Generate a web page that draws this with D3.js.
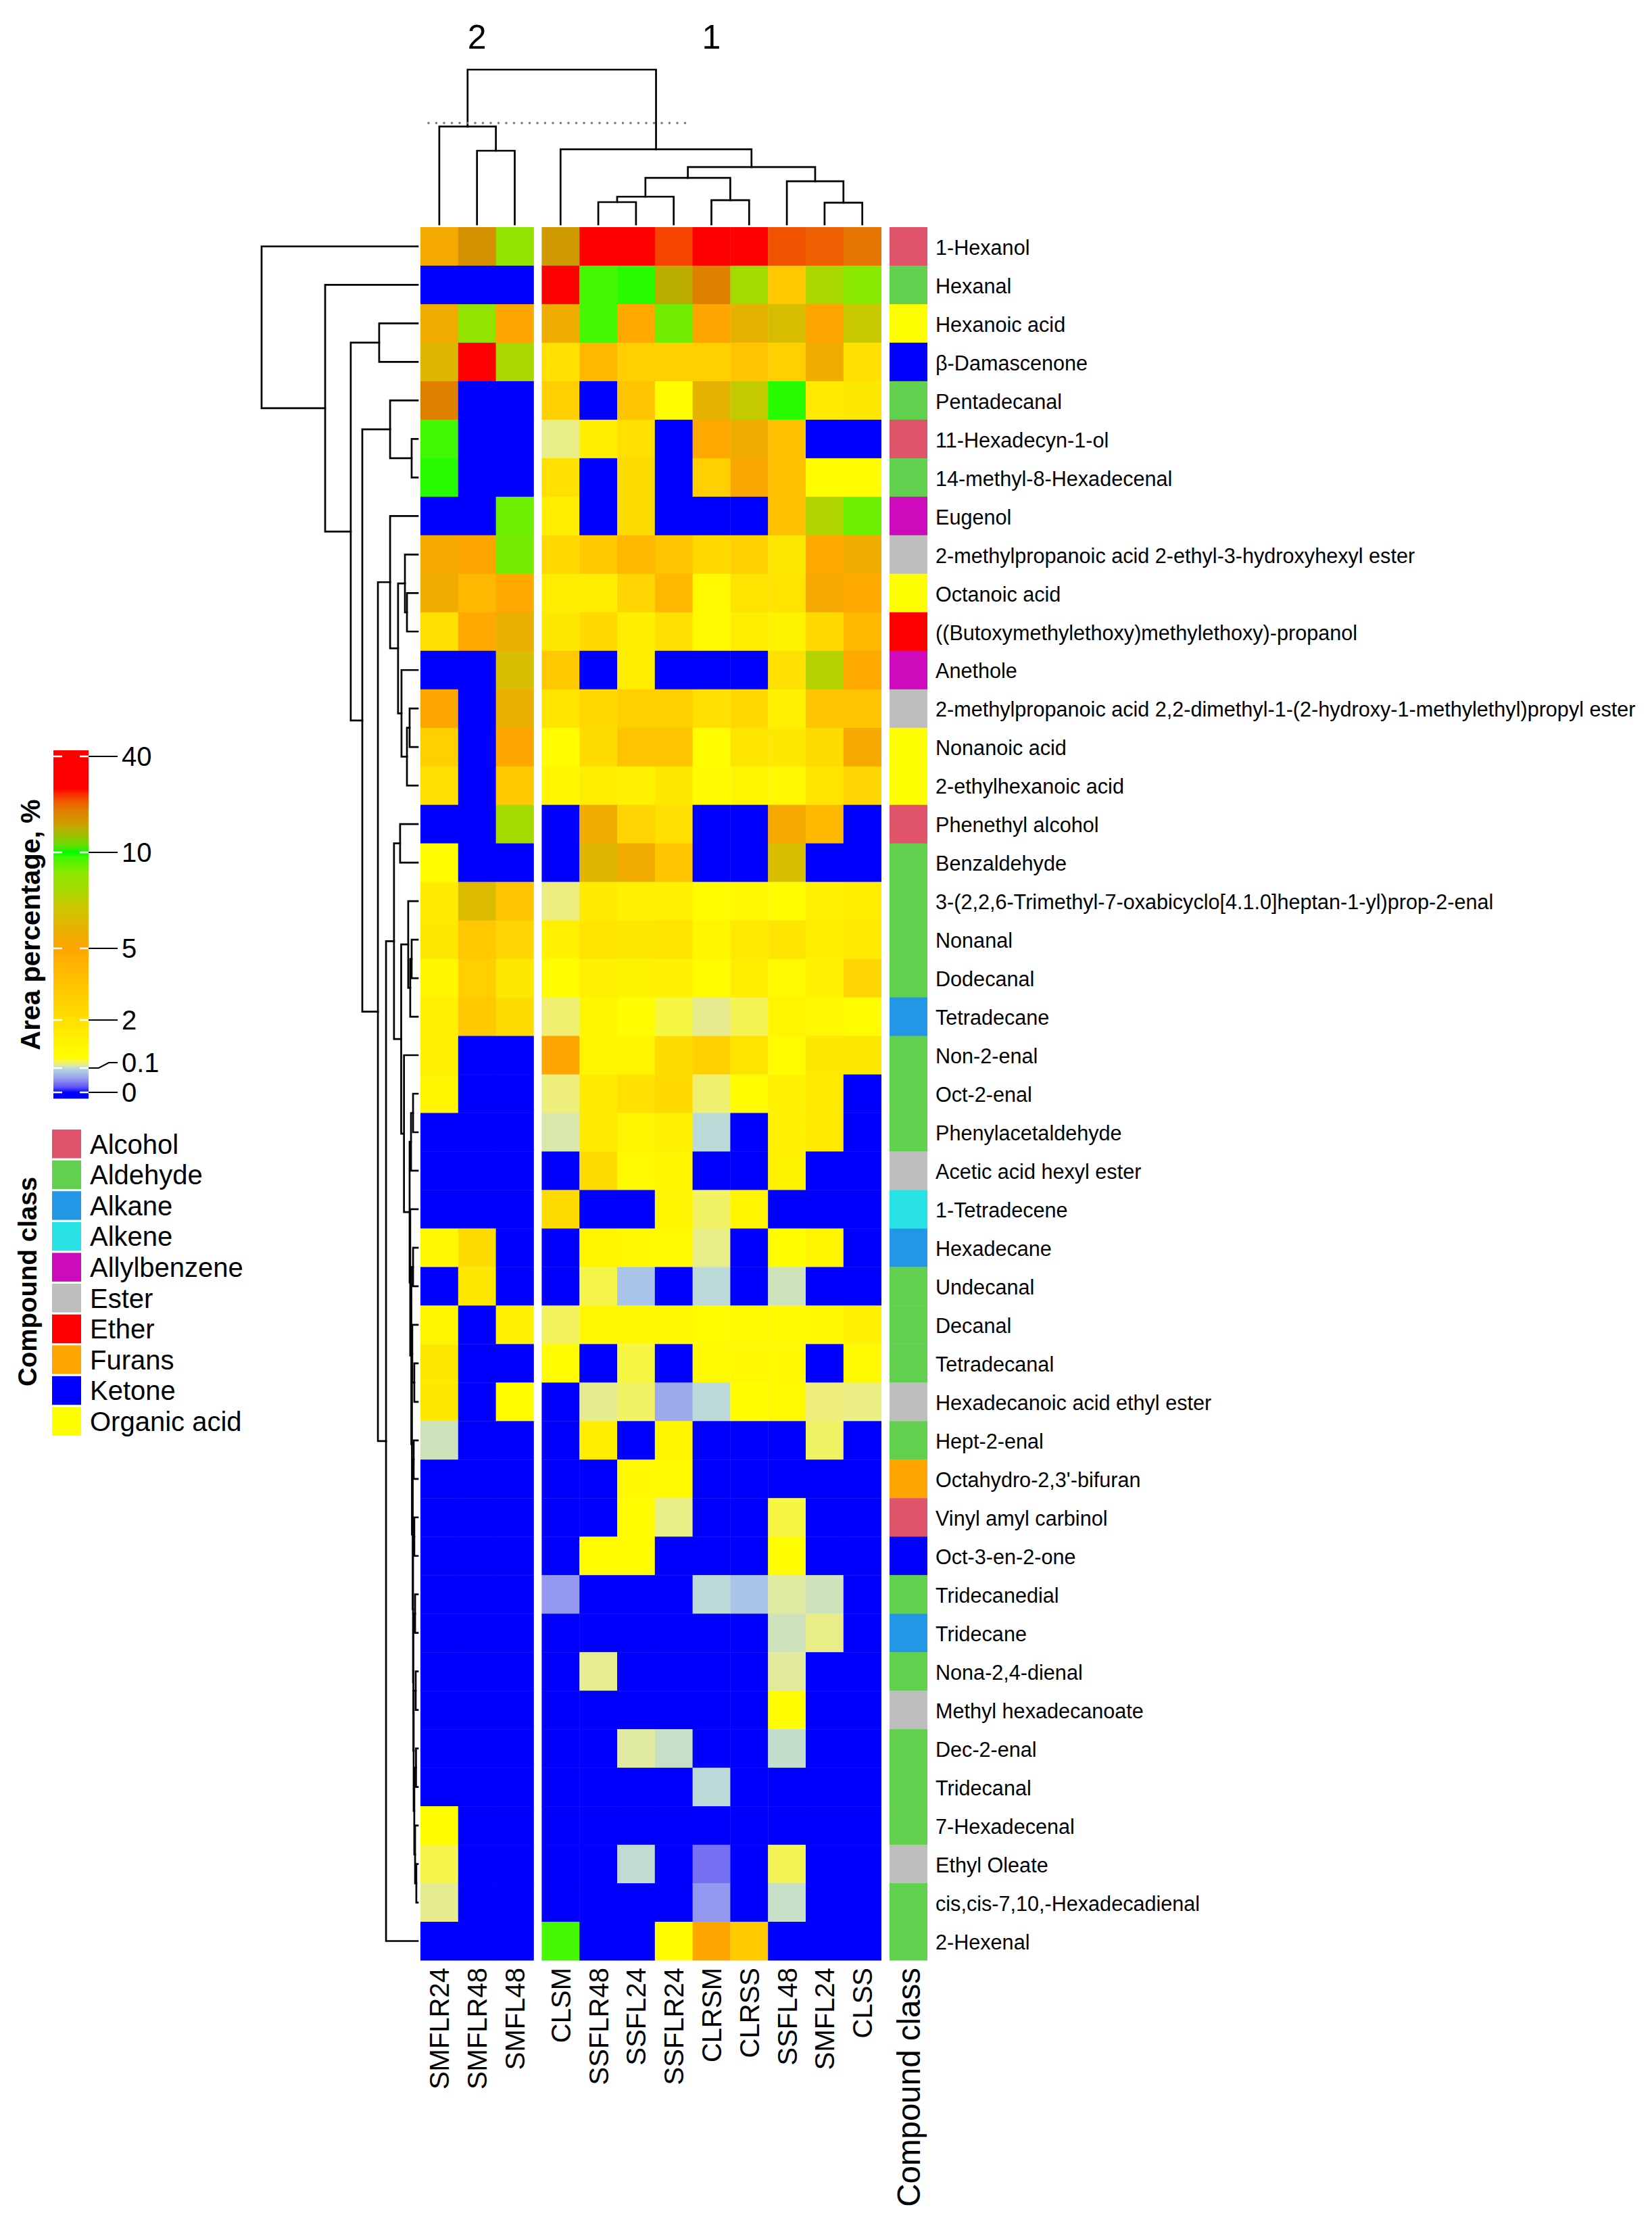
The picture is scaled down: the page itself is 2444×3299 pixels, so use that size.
<!DOCTYPE html>
<html><head><meta charset="utf-8">
<script src="https://cdn.jsdelivr.net/npm/d3@7"></script>
<style>
body{margin:0;background:#fff;}
svg{display:block;}
text{font-family:"Liberation Sans",Arial,Helvetica,sans-serif;fill:#000;}
</style>
</head><body>
<svg id="chart" width="2444" height="3299"></svg>
<script>
// ---------------- DATA ----------------
const columns = ["SMFLR24","SMFLR48","SMFL48","CLSM","SSFLR48","SSFL24","SSFLR24","CLRSM","CLRSS","SSFL48","SMFL24","CLSS"];
const columnCluster = [2,2,2,1,1,1,1,1,1,1,1,1];
const clusterNames = [2,1];

const compounds = ["1-Hexanol","Hexanal","Hexanoic acid","β-Damascenone","Pentadecanal","11-Hexadecyn-1-ol",
"14-methyl-8-Hexadecenal","Eugenol","2-methylpropanoic acid 2-ethyl-3-hydroxyhexyl ester","Octanoic acid",
"((Butoxymethylethoxy)methylethoxy)-propanol","Anethole",
"2-methylpropanoic acid 2,2-dimethyl-1-(2-hydroxy-1-methylethyl)propyl ester","Nonanoic acid","2-ethylhexanoic acid",
"Phenethyl alcohol","Benzaldehyde","3-(2,2,6-Trimethyl-7-oxabicyclo[4.1.0]heptan-1-yl)prop-2-enal","Nonanal","Dodecanal",
"Tetradecane","Non-2-enal","Oct-2-enal","Phenylacetaldehyde","Acetic acid hexyl ester","1-Tetradecene","Hexadecane",
"Undecanal","Decanal","Tetradecanal","Hexadecanoic acid ethyl ester","Hept-2-enal","Octahydro-2,3'-bifuran",
"Vinyl amyl carbinol","Oct-3-en-2-one","Tridecanedial","Tridecane","Nona-2,4-dienal","Methyl hexadecanoate",
"Dec-2-enal","Tridecanal","7-Hexadecenal","Ethyl Oleate","cis,cis-7,10,-Hexadecadienal","2-Hexenal"];

const compoundClass = ["Alcohol","Aldehyde","Organic acid","Ketone","Aldehyde","Alcohol","Aldehyde","Allylbenzene","Ester",
"Organic acid","Ether","Allylbenzene","Ester","Organic acid","Organic acid","Alcohol","Aldehyde","Aldehyde","Aldehyde",
"Aldehyde","Alkane","Aldehyde","Aldehyde","Aldehyde","Ester","Alkene","Alkane","Aldehyde","Aldehyde","Aldehyde","Ester",
"Aldehyde","Furans","Alcohol","Ketone","Aldehyde","Alkane","Aldehyde","Ester","Aldehyde","Aldehyde","Aldehyde","Ester",
"Aldehyde","Aldehyde"];

const classNames = ["Alcohol","Aldehyde","Alkane","Alkene","Allylbenzene","Ester","Ether","Furans","Ketone","Organic acid"];
const classColors = ["#DF536B","#61D04F","#2297E6","#28E2E5","#CD0BBC","#BEBEBE","#FF0000","#FFA500","#0000FF","#FFFF00"];

// Area percentage (%) per sample, rows in compound order
const SMFLR24 = [5.4,0,5.6,6.4,23,9.75,9.85,0,5.4,5.6,2.0,0,5.0,2.9,2.0,0,0.6,1.5,1.6,0.95,1.2,1.2,1.0,0,0,0,0.85,0,1.0,1.6,1.6,0.15,0,0,0,0,0,0,0,0,0,0.6,0.36,0.24,0];
const SMFLR48 = [20.5,0,8.7,35,0,0,0,0,5.0,4.1,4.8,0,0,0,0,0,0,6.5,3.3,2.9,3.3,0,0,0,0,0,2.2,1.6,0,0,0,0,0,0,0,0,0,0,0,0,0,0,0,0,0];
const SMFL48  = [8.7,0,4.9,8.0,0,0,0,9.3,9.2,4.8,6.0,6.7,6.0,5.0,3.3,8.1,0,3.5,2.6,1.6,2.2,0,0,0,0,0,0,0,1.2,0,0.65,0,0,0,0,0,0,0,0,0,0,0,0,0,0];
const CLSM    = [19.5,35,5.7,2.0,2.9,0.25,2.0,1.3,2.4,1.3,1.6,3.3,1.8,0.6,0.95,0,0,0.27,1.2,0.65,0.3,5.0,0.28,0.18,0,2.2,0,0,0.33,0.65,0,0,0,0,0,0.055,0,0,0,0,0,0,0,0,9.7];
const SSFLR48 = [35,9.7,9.7,4.1,0,1.3,0,0,3.3,1.3,2.4,0,2.4,2.2,1.3,5.6,6.3,1.5,1.8,1.2,0.95,1.0,1.5,1.5,2.2,0,1.0,0.37,0.85,0,0.24,1.3,0,0,0.65,0,0,0.23,0,0,0,0,0,0,0];
const SSFL24  = [35,9.85,4.8,2.9,3.5,2.0,2.2,2.2,4.1,2.6,1.3,1.3,2.9,3.5,1.2,2.6,5.6,1.2,1.6,1.1,0.6,1.0,2.0,1.0,0.75,0,0.85,0.08,0.85,0.38,0.32,0,0.85,0.65,0.65,0,0,0,0,0.2,0,0,0.11,0,0];
const SSFLR24 = [27,17.6,9.25,2.9,0.6,0,0,0,3.5,4.1,2.0,0,2.9,3.5,1.6,2.0,3.5,1.2,1.8,1.2,0.38,2.2,2.4,1.2,1.0,1.0,0.75,0,0.85,0,0.065,0.95,0.75,0.25,0,0,0,0,0,0.13,0,0,0,0,0.6];
const CLRSM   = [35,23,4.9,2.9,6.1,4.8,2.9,0,2.4,0.75,0.75,0,2.0,0.6,0.75,0,0,0.65,0.95,0.65,0.24,2.9,0.3,0.1,0,0.32,0.25,0.1,0.65,0.75,0.1,0,0,0,0,0.1,0,0,0,0,0.1,0,0.035,0.055,5.0];
const CLRSS   = [35,8.2,6.1,3.5,7.3,5.7,5.3,0,2.9,1.8,1.3,0,2.4,1.8,1.0,0,0,0.85,1.5,1.3,0.35,1.8,0.6,0,0,1.0,0,0,0.75,0.85,0.6,0,0,0,0,0.08,0,0,0,0,0,0,0,0,3.1];
const SSFL48  = [26.2,3.3,6.7,2.9,9.85,3.7,3.7,3.7,1.6,1.8,1.1,2.0,1.2,1.6,0.85,5.4,6.7,0.65,1.8,0.75,1.0,0.65,1.2,1.2,1.1,0,0.65,0.15,0.75,0.85,0.75,0,0,0.38,0.6,0.2,0.15,0.21,0.6,0.12,0,0,0.35,0.13,0];
const SMFL24  = [25.5,8.0,5.0,5.6,1.5,0,0.6,7.8,4.8,5.4,2.4,7.7,3.5,2.2,1.8,4.1,0,1.2,1.3,1.2,0.85,1.6,1.5,1.5,0,0,1.0,0,0.85,0,0.28,0.32,0,0,0,0.15,0.25,0,0,0,0,0,0,0,0];
const CLSS    = [23.8,9.0,7.2,2.0,1.6,0,0.65,9.3,5.6,4.8,4.1,4.8,3.5,5.4,2.6,0,0,1.3,1.5,2.6,0.65,1.6,0,0,0,0,0,0,1.2,0.75,0.26,0,0,0,0,0,0,0,0,0,0,0,0,0,0];
const sampleValues = [SMFLR24,SMFLR48,SMFL48,CLSM,SSFLR48,SSFL24,SSFLR24,CLRSM,CLRSS,SSFL48,SMFL24,CLSS];

// colour key
const colorStops = [0,0.02,0.05,0.08,0.1,0.2,0.3,0.5,2,3.5,5,6,7,8,9,9.75,10,12,15,18,20,23,26,28,30,40];
const colorStopColors = ["#0000ff","#5a50f8","#9090f0","#a8c4e8","#bcdad8","#e0eaa0","#f0f070","#ffff00","#ffe000","#ffc400",
"#ffa500","#e8b000","#d0c400","#a8d800","#88e800","#40f800","#00ff00","#60e000","#98c400","#c0a800","#d49400","#e08000",
"#f05800","#fa3000","#ff0000","#ff0000"];
const legendTicks = [0,0.1,2,5,10,40];
const legendTickLabels = ["0","0.1","2","5","10","40"];

// dendrograms (merge heights, relative units)
const node = (h,a,b)=>({h:h,children:[a,b]});
const colTree = node(100,
  node(63.3,"SMFLR24",node(47.6,"SMFLR48","SMFL48")),
  node(48.5,"CLSM",
    node(37.1,
      node(30.1, node(17.9, node(14.4,"SSFLR48","SSFL24"),"SSFLR24"), node(15.7,"CLRSM","CLRSS")),
      node(27.9,"SSFL48",node(14.0,"SMFL24","CLSS")))));
const colCutHeight = 65.5;

// row tree, leaves are 1-based row numbers
const rowTree = node(100, 1,
  node(59.3, 2,
    node(42.9,
      node(24.7, 3, 4),
      node(35.5,
        node(17.7, 5, node(3.9, 6, 7)),
        node(25.5,
          node(17.7, 8,
            node(12.6,
              node(8.2, 9, node(6.9, 10, 11)),
              node(10.4, 12, node(6.9, node(5.2, 13, 14), 15)))),
          node(20.3,
            node(15.2,
              node(11.3, 16, 17),
              node(10.6,
                node(6.1, 18, node(4.8, node(3.9, 19, 20), 21)),
                node(8.8, 22,
                  node(5.2,
                    node(4.3, node(3.0, 23, 24), 25),
                    node(4.8, 26,
                      node(4.1, node(3.0, 27, 28),
                        node(3.7, node(3.5, 29, node(2.2, 30, 31)),
                          node(3.2, node(2.6, 32, 33),
                            node(3.0, node(2.2, 34, 35),
                              node(2.8, node(1.7, 36, 37),
                                node(2.6, node(1.3, 38, 39),
                                  node(2.2, node(1.1, 40, 41),
                                    node(1.7, 42, node(0.9, 43, 44)))))))))))))),
            45))))));

// ---------------- LAYOUT ----------------
const svg = d3.select("#chart");
const hmTop = 336, hmBottom = 2900, hmLeft = 622, cellW = 55.8, blockGap = 12;
const classX = 1316, classW = 56;

const yBand = d3.scaleBand().domain(compounds).range([hmTop, hmBottom]);
const xBand = d3.scaleBand().domain(columns).range([hmLeft, hmLeft + cellW*columns.length]);
const colX = c => xBand(c) + (columnCluster[columns.indexOf(c)] === 1 ? blockGap : 0);
const colCenter = c => colX(c) + xBand.bandwidth()/2;
const rowCenter = i => yBand(compounds[i-1]) + yBand.bandwidth()/2;

const color = d3.scaleLinear().domain(colorStops).range(colorStopColors).clamp(true);
const classColor = d3.scaleOrdinal().domain(classNames).range(classColors);

// ---------------- HEATMAP ----------------
const cells = [];
columns.forEach((c,ci)=>compounds.forEach((r,ri)=>cells.push({c:c,r:r,v:sampleValues[ci][ri]})));
svg.append("g").selectAll("rect").data(cells).join("rect")
  .attr("x", d=>colX(d.c)).attr("y", d=>yBand(d.r))
  .attr("width", xBand.bandwidth()+0.4).attr("height", yBand.bandwidth()+0.4)
  .attr("fill", d=>color(d.v));

// annotation column
svg.append("g").selectAll("rect").data(compounds).join("rect")
  .attr("x", classX).attr("y", d=>yBand(d))
  .attr("width", classW).attr("height", yBand.bandwidth()+0.4)
  .attr("fill", (d,i)=>classColor(compoundClass[i]));

// row labels
svg.append("g").selectAll("text").data(compounds).join("text")
  .attr("x", 1384).attr("y", d=>yBand(d)+yBand.bandwidth()/2).attr("dy","0.4em")
  .attr("font-size", 30.6).text(d=>d);

// column labels
svg.append("g").selectAll("text").data(columns).join("text")
  .attr("transform", d=>`translate(${colCenter(d)+14.5},2911) rotate(-90)`)
  .attr("text-anchor","end").attr("font-size",40).text(d=>d);
svg.append("text")
  .attr("transform", `translate(${classX+classW/2+17},2911) rotate(-90)`)
  .attr("text-anchor","end").attr("font-size",47.5).text("Compound class");

// ---------------- DENDROGRAMS ----------------
const colDendY = d3.scaleLinear().domain([0,100]).range([332,103]);
const rowDendX = d3.scaleLinear().domain([0,100]).range([618,387]);
const dendG = svg.append("g").attr("fill","none").attr("stroke","#000").attr("stroke-width",2.7)
  .attr("stroke-linecap","square");

function drawCol(n){
  if (typeof n === "string") return {x: colCenter(n), h: 0};
  const a = drawCol(n.children[0]), b = drawCol(n.children[1]);
  dendG.append("path").attr("d",
    `M${a.x},${colDendY(a.h)}V${colDendY(n.h)}H${b.x}V${colDendY(b.h)}`);
  return {x:(a.x+b.x)/2, h:n.h};
}
drawCol(colTree);

function drawRow(n){
  if (typeof n === "number") return {y: rowCenter(n), h: 0};
  const a = drawRow(n.children[0]), b = drawRow(n.children[1]);
  dendG.append("path").attr("d",
    `M${rowDendX(a.h)},${a.y}H${rowDendX(n.h)}V${b.y}H${rowDendX(b.h)}`);
  return {y:(a.y+b.y)/2, h:n.h};
}
drawRow(rowTree);

// cut line
svg.append("line")
  .attr("x1", hmLeft+12).attr("x2", colCenter("SSFLR24")+27)
  .attr("y1", colDendY(colCutHeight)).attr("y2", colDendY(colCutHeight))
  .attr("stroke","#777").attr("stroke-width",3.6).attr("stroke-linecap","round")
  .attr("stroke-dasharray","0 11.5");

// cluster labels
clusterNames.forEach(k=>{
  const cs = columns.filter((c,i)=>columnCluster[i]===k);
  const cx = (colCenter(cs[0]) + colCenter(cs[cs.length-1]))/2;
  svg.append("text").attr("x",cx).attr("y",72).attr("text-anchor","middle")
    .attr("font-size",50).text(k);
});

// ---------------- COLOUR KEY ----------------
const barX = 79, barW = 52, barTop = 1110, barBottom = 1625;
const legendY = d3.scaleLinear().domain(legendTicks).range([1616,1580,1509,1403,1261,1119]);
const barG = svg.append("g");
const steps = d3.range(barTop, barBottom, 1);
barG.selectAll("rect").data(steps).join("rect")
  .attr("x", barX).attr("y", d=>d).attr("width", barW).attr("height", 1.3)
  .attr("fill", d=>color(Math.max(0, legendY.invert(d+0.5))));
// inner white ticks
legendTicks.forEach(t=>{
  const y = legendY(t);
  barG.append("line").attr("x1",barX).attr("x2",barX+13).attr("y1",y).attr("y2",y)
    .attr("stroke","#fff").attr("stroke-width",2.5);
  barG.append("line").attr("x1",barX+barW-13).attr("x2",barX+barW).attr("y1",y).attr("y2",y)
    .attr("stroke","#fff").attr("stroke-width",2.5);
});
// outer ticks and labels (0.1 label nudged up)
const labelOffset = {"0.1": -8};
legendTicks.forEach((t,i)=>{
  const y = legendY(t);
  const lab = legendTickLabels[i];
  const ly = y + (labelOffset[lab] || 0);
  const d = ly === y ? `M${barX+barW},${y}H174`
                     : `M${barX+barW},${y}H146L161,${ly}H174`;
  barG.append("path").attr("d", d).attr("fill","none").attr("stroke","#000").attr("stroke-width",2.2);
  barG.append("text").attr("x",180).attr("y",ly).attr("dy","0.36em")
    .attr("font-size",40).text(lab);
});
svg.append("text").attr("transform","translate(59,1368) rotate(-90)")
  .attr("text-anchor","middle").attr("font-size",40).attr("font-weight","bold")
  .text("Area percentage, %");

// ---------------- CLASS LEGEND ----------------
const legG = svg.append("g");
const legTop = 1671, legPitch = 45.6, boxH = 42.5;
legG.selectAll("rect").data(classNames).join("rect")
  .attr("x",77).attr("y",(d,i)=>legTop+i*legPitch).attr("width",43).attr("height",boxH)
  .attr("fill",d=>classColor(d));
legG.selectAll("text").data(classNames).join("text")
  .attr("x",133).attr("y",(d,i)=>legTop+i*legPitch+boxH/2).attr("dy","0.36em")
  .attr("font-size",40).text(d=>d);
svg.append("text").attr("transform","translate(54,1896) rotate(-90)")
  .attr("text-anchor","middle").attr("font-size",38.5).attr("font-weight","bold")
  .text("Compound class");
</script>
</body></html>
